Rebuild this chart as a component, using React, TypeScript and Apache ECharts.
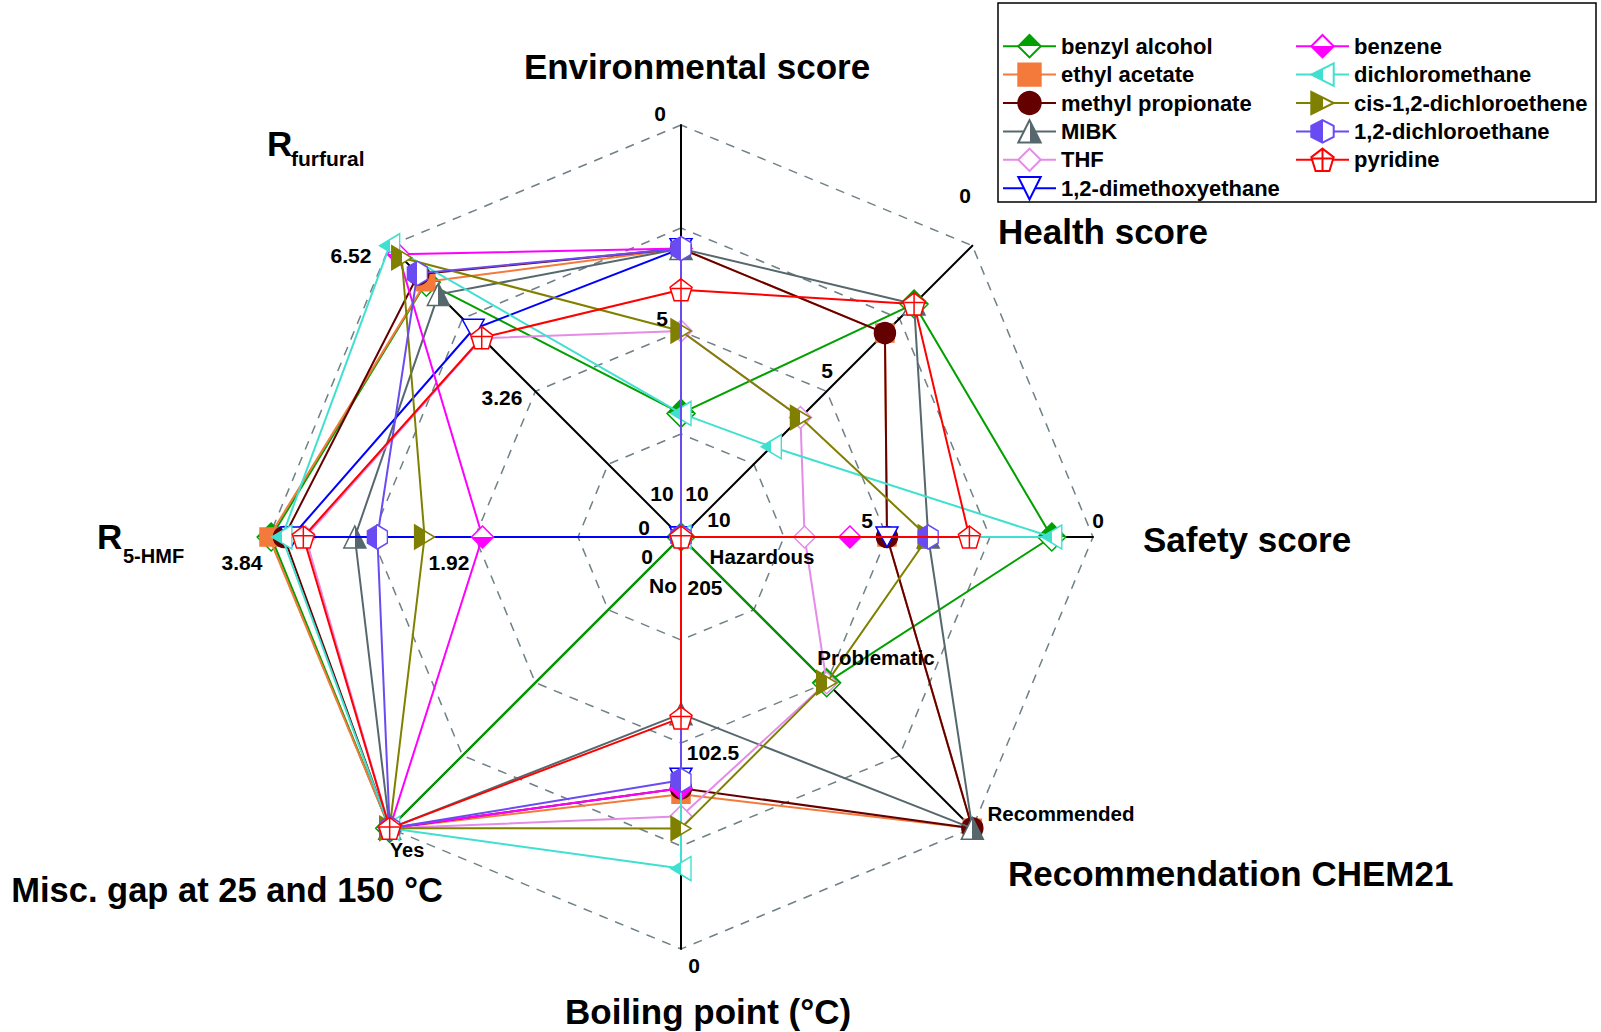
import React, { useEffect, useRef } from 'react';
import * as echarts from 'echarts';

// ---------- data ----------
const solvents = [
  'benzyl alcohol', 'ethyl acetate', 'methyl propionate', 'MIBK', 'THF', '1,2-dimethoxyethane',
  'benzene', 'dichloromethane', 'cis-1,2-dichloroethene', '1,2-dichloroethane', 'pyridine',
];
const envScore = [7, 3, 3, 3, 5, 3, 3, 7, 5, 3, 4];
const healthScore = [2, 3, 3, 2, 5.9, 10, 10, 6.9, 5.9, 10, 2];
const safetyScore = [1, 5, 5, 4, 7, 5, 5.9, 1, 4, 4, 3];
const chem21Rank = ['Problematic', 'Recommended', 'Recommended', 'Recommended', 'Problematic', 'Hazardous',
  'Hazardous', 'Hazardous', 'Problematic', 'Hazardous', 'Hazardous'];
const boilingPoint = [205, 77, 80, 117, 66, 85, 80, 40, 60, 84, 115];
const miscGap = ['Yes', 'Yes', 'Yes', 'Yes', 'Yes', 'No', 'Yes', 'Yes', 'Yes', 'Yes', 'Yes'];
const r5hmf = [3.82, 3.84, 3.7, 3.04, 3.5, 3.63, 1.85, 3.72, 2.39, 2.83, 3.52];
const rFurfural = [5.7, 5.71, 5.88, 5.43, 4.45, 4.65, 6.33, 6.52, 6.25, 5.9, 4.46];

const chem21Levels = ['Hazardous', 'Problematic', 'Recommended'];
const miscLevels = ['No', 'Yes'];
const scoreMax = 10;
const bpMax = 205;
const r5Max = 3.84;
const rfMax = 6.52;

// tick labels (center, middle, outer)
const envTicks = ['10', '5', '0'];
const healthTicks = ['10', '5', '0'];
const safetyTicks = ['10', '5', '0'];
const bpTicks = ['205', '102.5', '0'];
const r5Ticks = ['0', '1.92', '3.84'];
const rfTicks = ['0', '3.26', '6.52'];

// ---------- styles ----------
const FONT = '"Liberation Sans", Arial, Helvetica, sans-serif';
const INV_TRI = 'path://M0,0L10,0L5,9Z';
const LEFT_TRI = 'path://M0,5L10,0L10,10Z';
const RIGHT_TRI = 'path://M0,0L10,5L0,10Z';
const HEX = 'path://M5,0L10,2.5L10,7.5L5,10L0,7.5L0,2.5Z';
const PENT_CROSS = 'path://M5,0L10,3.8L8.1,10L1.9,10L0,3.8Z M5,0L5,10 M0.6,4.4L9.4,4.4';

const split = (horizontal: boolean, a: string, b: string) =>
  new echarts.graphic.LinearGradient(0, 0, horizontal ? 1 : 0, horizontal ? 0 : 1, [
    { offset: 0, color: a }, { offset: 0.5, color: a },
    { offset: 0.5, color: b }, { offset: 1, color: b },
  ]);

const styles: any[] = [
  { color: '#00a000', symbol: 'diamond', size: 28, fill: () => split(false, '#00a000', '#ffffff') },
  { color: '#f47a3c', symbol: 'rect', size: 18, fill: () => '#f47a3c' },
  { color: '#650000', symbol: 'circle', size: 21, fill: () => '#650000' },
  { color: '#56686d', symbol: 'triangle', size: 22, fill: () => split(true, '#ffffff', '#56686d') },
  { color: '#e58be8', symbol: 'diamond', size: 22, fill: () => '#ffffff' },
  { color: '#0000ff', symbol: INV_TRI, size: [22, 20], fill: () => '#ffffff' },
  { color: '#ff00ff', symbol: 'diamond', size: 22, fill: () => split(false, '#ffffff', '#ff00ff') },
  { color: '#40e0d0', symbol: LEFT_TRI, size: [20, 24], fill: () => split(true, '#40e0d0', '#ffffff') },
  { color: '#808000', symbol: RIGHT_TRI, size: [20, 24], fill: () => split(true, '#808000', '#ffffff') },
  { color: '#6a4bf2', symbol: HEX, size: [20, 24], fill: () => split(true, '#6a4bf2', '#ffffff') },
  { color: '#ff0000', symbol: PENT_CROSS, size: 22, fill: () => '#ffffff' },
];

function buildOption() {
  const indicator = [
    { name: 'Environmental score', min: 0, max: scoreMax },
    { name: 'Rfurfural', min: 0, max: rfMax },
    { name: 'R5-HMF', min: 0, max: r5Max },
    { name: 'Misc. gap', min: 0, max: miscLevels.length - 1 },
    { name: 'Boiling point', min: 0, max: bpMax },
    { name: 'Recommendation CHEM21', min: 0, max: chem21Levels.length - 1 },
    { name: 'Safety score', min: 0, max: scoreMax },
    { name: 'Health score', min: 0, max: scoreMax },
  ];

  const legendSeries = solvents.map((name, i) => ({
    type: 'line',
    name,
    data: [],
    xAxisIndex: 0,
    yAxisIndex: 0,
    symbol: styles[i].symbol,
    symbolSize: styles[i].size,
    itemStyle: { color: styles[i].fill(), borderColor: styles[i].color, borderWidth: 1.5 },
    lineStyle: { color: styles[i].color, width: 2 },
  }));

  const radarSeries = solvents.map((name, i) => ({
    type: 'radar',
    name,
    radarIndex: 0,
    symbol: styles[i].symbol,
    symbolSize: styles[i].size,
    itemStyle: { color: styles[i].fill(), borderColor: styles[i].color, borderWidth: 1.5 },
    lineStyle: { color: styles[i].color, width: 2 },
    z: 3 + i,
    data: [{
      name,
      value: [
        scoreMax - envScore[i],
        rFurfural[i],
        r5hmf[i],
        miscLevels.indexOf(miscGap[i]),
        bpMax - boilingPoint[i],
        chem21Levels.indexOf(chem21Rank[i]),
        scoreMax - safetyScore[i],
        scoreMax - healthScore[i],
      ],
    }],
  }));

  const txt = (text: string, x: number, y: number, size: number, align = 'center') => ({
    type: 'text', x, y, z: 50, silent: true,
    style: { text, fill: '#000', fontSize: size, fontWeight: 'bold', fontFamily: FONT, align, verticalAlign: 'middle' },
  });

  const titles = [
    txt('Environmental score', 697, 66, 35),
    txt('Health score', 998, 231, 35, 'left'),
    txt('Safety score', 1143, 539, 35, 'left'),
    txt('Recommendation CHEM21', 1008, 873, 35, 'left'),
    txt('Boiling point (°C)', 565, 1011, 35, 'left'),
    txt('Misc. gap at 25 and 150 °C', 443, 890, 34.5, 'right'),
    txt('R', 97, 536, 35, 'left'),
    txt('5-HMF', 123, 556, 20, 'left'),
    txt('R', 267, 143, 35, 'left'),
    txt('furfural', 291, 158, 21, 'left'),
  ];

  const T = 21;
  const ticks = [
    txt(envTicks[2], 660, 113, T), txt(envTicks[1], 662, 318, T), txt(envTicks[0], 662, 493, T),
    txt(healthTicks[0], 697, 493, T), txt(healthTicks[1], 827, 370, T), txt(healthTicks[2], 965, 195, T),
    txt(safetyTicks[0], 719, 519, T), txt(safetyTicks[1], 867, 520, T), txt(safetyTicks[2], 1098, 520, T),
    txt(chem21Levels[0], 762, 556, 20.5), txt(chem21Levels[1], 876, 657, 20.5), txt(chem21Levels[2], 1061, 813, 20.5),
    txt(bpTicks[0], 705, 587, T), txt(bpTicks[1], 713, 752, T), txt(bpTicks[2], 694, 965, T),
    txt(miscLevels[0], 663, 585, T), txt(miscLevels[1], 407, 850, 20),
    txt(r5Ticks[0], 647, 556, T), txt(r5Ticks[1], 449, 562, T), txt(r5Ticks[2], 242, 562, T),
    txt(rfTicks[0], 644, 527, T), txt(rfTicks[1], 502, 397, T), txt(rfTicks[2], 351, 255, T),
  ];

  const legendCommon = {
    orient: 'vertical',
    itemWidth: 53,
    itemHeight: 28,
    itemGap: 4,
    textStyle: { fontSize: 22, fontWeight: 'bold', color: '#000', fontFamily: FONT },
  };

  return {
    animation: false,
    backgroundColor: '#ffffff',
    grid: { left: 0, top: 0, width: 10, height: 10, show: false },
    xAxis: { type: 'value', show: false },
    yAxis: { type: 'value', show: false },
    legend: [
      { ...legendCommon, data: solvents.slice(0, 6), left: 997, top: 29 },
      { ...legendCommon, data: solvents.slice(6), left: 1290, top: 29 },
    ],
    radar: {
      center: [681, 537],
      radius: 412,
      startAngle: 90,
      shape: 'polygon',
      splitNumber: 4,
      indicator,
      axisName: { show: false },
      axisLine: { show: true, lineStyle: { color: '#000', width: 2 } },
      splitLine: { show: true, lineStyle: { color: '#6f8087', width: 1.5, type: [9, 8] } },
      splitArea: { show: false },
      axisTick: { show: false },
      axisLabel: { show: false },
    },
    graphic: [
      {
        type: 'rect', z: 40, silent: true,
        shape: { x: 998, y: 3, width: 598, height: 199 },
        style: { fill: 'none', stroke: '#000', lineWidth: 1.5 },
      },
      ...titles,
      ...ticks,
    ],
    series: [...legendSeries, ...radarSeries],
  };
}

export default function App() {
  const ref = useRef<HTMLDivElement>(null);
  useEffect(() => {
    const chart = echarts.init(ref.current as HTMLDivElement, null, { renderer: 'svg' });
    chart.setOption(buildOption() as any);
    return () => chart.dispose();
  }, []);
  return (
    <div
      ref={ref}
      style={{ position: 'fixed', left: 0, top: 0, width: 1601, height: 1032, background: '#fff' }}
    />
  );
}
